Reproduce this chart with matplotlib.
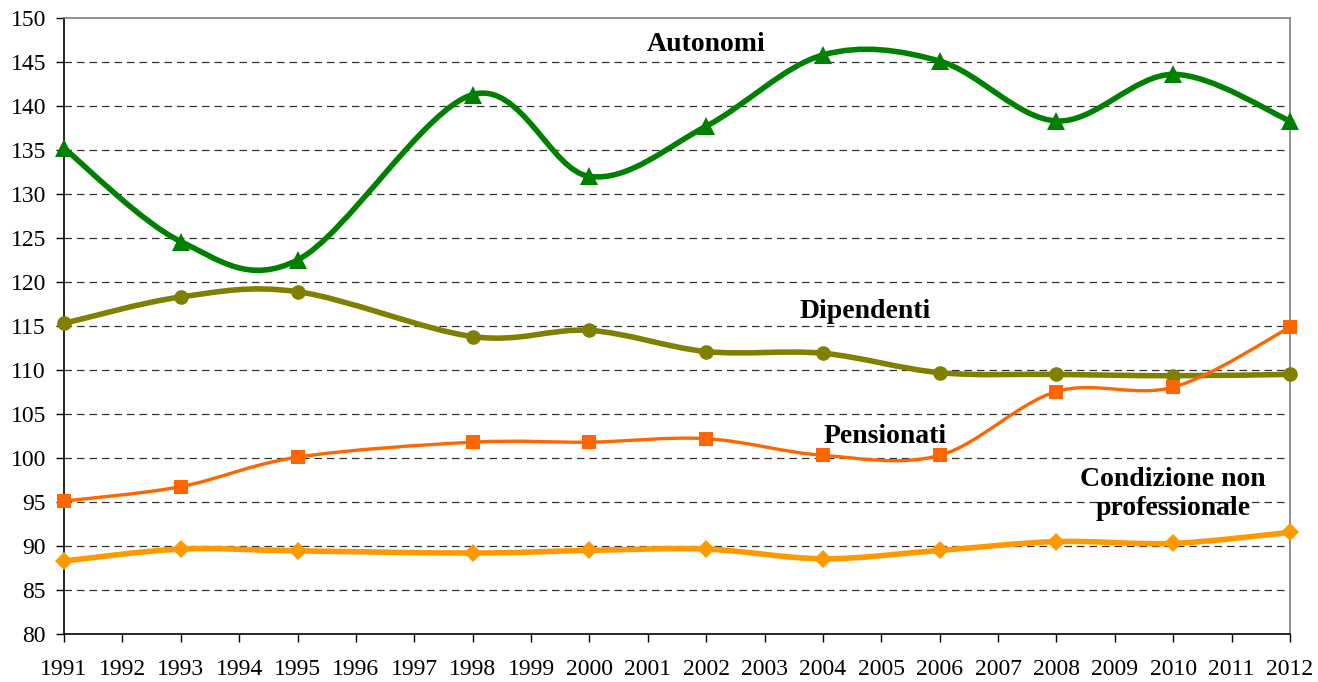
import numpy as np
import matplotlib
matplotlib.use('Agg')
import matplotlib.pyplot as plt
from matplotlib.path import Path
from matplotlib.patches import PathPatch

plt.rcParams['font.family'] = ['Liberation Serif', 'DejaVu Serif']

years = [1991, 1993, 1995, 1998, 2000, 2002, 2004, 2006, 2008, 2010, 2012]
autonomi = [135.2, 124.6, 122.5, 141.3, 132.0, 137.7, 145.8, 145.1, 138.3, 143.6, 138.3]
dipendenti = [115.3, 118.3, 118.9, 113.8, 114.5, 112.1, 111.9, 109.7, 109.5, 109.35, 109.5]
pensionati = [95.1, 96.75, 100.1, 101.8, 101.8, 102.2, 100.3, 100.3, 107.55, 108.05, 114.85]
non_prof = [88.3, 89.65, 89.45, 89.2, 89.5, 89.65, 88.55, 89.5, 90.5, 90.3, 91.55]

labels = ['Autonomi', 'Dipendenti', 'Pensionati', 'Condizione non\nprofessionale']
xticks = list(range(1991, 2013))
yticks = list(range(80, 151, 5))


def smooth_path(xs, ys):
    # excel-like smoothed line: cubic bezier segments, catmull-rom tangents
    p = np.column_stack([xs, ys]).astype(float)
    n = len(p)
    verts = [p[0]]
    codes = [Path.MOVETO]
    for i in range(n - 1):
        a = p[i - 1] if i > 0 else p[i]
        d = p[i + 2] if i + 2 < n else p[i + 1]
        c1 = p[i] + (p[i + 1] - a) / 6.0
        c2 = p[i + 1] - (d - p[i]) / 6.0
        verts += [c1, c2, p[i + 1]]
        codes += [Path.CURVE4] * 3
    return Path(verts, codes)


fig = plt.figure(figsize=(13.18, 6.82), dpi=100)
ax = fig.add_axes([64 / 1318, 48 / 682, 1226 / 1318, 616 / 682])

series = [
    (autonomi, '#008000', 4.0, '^', 13),
    (dipendenti, '#808000', 4.0, 'o', 10.5),
    (pensionati, '#FF6600', 2.4, 's', 10),
    (non_prof, '#FF9900', 4.0, 'D', 9.5),
]
for vals, col, lw, mk, ms in series:
    ax.add_patch(PathPatch(smooth_path(years, vals), facecolor='none',
                           edgecolor=col, lw=lw, capstyle='round',
                           joinstyle='round', zorder=3))
    ax.plot(years, vals, linestyle='none', marker=mk, markersize=ms,
            color=col, markeredgewidth=0, zorder=4, clip_on=False)

ax.set_xlim(1991, 2012)
ax.set_ylim(80, 150)
ax.set_xticks(xticks)
ax.set_yticks(yticks)
ax.tick_params(axis='both', direction='out', length=6, width=1, labelsize=17,
               color='black')
ax.tick_params(axis='x', pad=12)
ax.tick_params(axis='y', pad=7)

for y in yticks[1:-1]:
    ax.axhline(y, color='#333333', lw=0.9, ls=(0, (6, 4)), zorder=1)

ax.spines['left'].set_color('black')
ax.spines['bottom'].set_color('black')
ax.spines['top'].set_color('#808080')
ax.spines['right'].set_color('#808080')
for s in ax.spines.values():
    s.set_linewidth(1.2)

lab_pos = [(2002.0, 147.0), (2004.72, 116.7), (2005.06, 102.5), (2010.0, 95.9)]
for txt, (lx, ly) in zip(labels, lab_pos):
    ax.text(lx, ly, txt, ha='center', va='center', fontsize=20,
            fontweight='bold', linespacing=1.25, zorder=5)

plt.savefig('out.png', dpi=100)
